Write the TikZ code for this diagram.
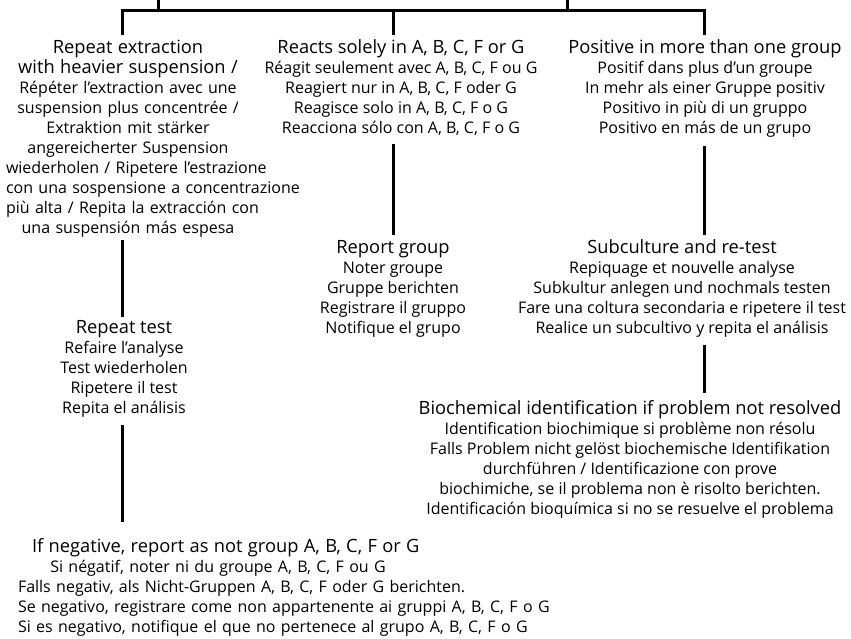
\documentclass[tikz,border=0pt]{standalone}
\usepackage{fontspec}
\setmainfont{Open Sans}
\newcommand\bigline[1]{{\fontsize{18.3}{20}\selectfont #1}}
\tikzset{
  blk/.style={inner sep=0pt, outer sep=0pt, align=center, font=\fontsize{16}{20}\selectfont},
  conn/.style={line width=3pt, line join=miter},
}
\begin{document}
\begin{tikzpicture}[x=1pt,y=-1pt]
\useasboundingbox (0,0) rectangle (851,638);
\coordinate (xL) at (122,0);
\coordinate (xM) at (393,0);
\coordinate (xR) at (704,0);
\coordinate (up1) at (158,0);
\coordinate (up2) at (567,0);
\coordinate (bar) at (393,10);

\node[blk, text width=244pt, anchor=north] (extr) at (128,40) {%
\mbox{\bigline{Repeat extraction}}\\
\mbox{\bigline{with heavier suspension /}}\\
\mbox{Répéter l’extraction avec une}\\
\mbox{suspension plus concentrée /}\\
\mbox{Extraktion mit stärker}\\
\mbox{angereicherter Suspension}\\
\mbox{wiederholen / Ripetere l’estrazione}\\
\mbox{con una sospensione a concentrazione}\\
\mbox{più alta / Repita la extracción con}\\
\mbox{una suspensión más espesa}};

\node[blk, anchor=north] (react) at (401,40) {%
\bigline{Reacts solely in A, B, C, F or G}\\
Réagit seulement avec A, B, C, F ou G\\
Reagiert nur in A, B, C, F oder G\\
Reagisce solo in A, B, C, F o G\\
Reacciona sólo con A, B, C, F o G};

\node[blk, anchor=north] (pos) at (705,40) {%
\bigline{Positive in more than one group}\\
Positif dans plus d’un groupe\\
In mehr als einer Gruppe positiv\\
Positivo in più di un gruppo\\
Positivo en más de un grupo};

\node[blk, anchor=north] (rep) at (393,240.5) {%
\bigline{Report group}\\
Noter groupe\\
Gruppe berichten\\
Registrare il gruppo\\
Notifique el grupo};

\node[blk, anchor=north] (sub) at (682,240) {%
\bigline{Subculture and re-test}\\
Repiquage et nouvelle analyse\\
Subkultur anlegen und nochmals testen\\
Fare una coltura secondaria e ripetere il test\\
Realice un subcultivo y repita el análisis};

\node[blk, anchor=north] (rtest) at (124,320.5) {%
\bigline{Repeat test}\\
Refaire l’analyse\\
Test wiederholen\\
Ripetere il test\\
Repita el análisis};

\node[blk, anchor=north] (bio) at (630,400) {%
\bigline{Biochemical identification if problem not resolved}\\
Identification biochimique si problème non résolu\\
Falls Problem nicht gelöst biochemische Identifikation\\
durchführen / Identificazione con prove\\
biochimiche, se il problema non è risolto berichten.\\
Identificación bioquímica si no se resuelve el problema};

\node[blk, text width=400pt, anchor=north] (neg) at (218,538) {%
\mbox{\hspace*{14pt}\bigline{If negative, report as not group A, B, C, F or G}}\\
\mbox{Si négatif, noter ni du groupe A, B, C, F ou G}\\
\mbox{Falls negativ, als Nicht-Gruppen A, B, C, F oder G berichten.}\\
\mbox{Se negativo, registrare come non appartenente ai gruppi A, B, C, F o G}\\
\mbox{Si es negativo, notifique el que no pertenece al grupo A, B, C, F o G}};

\coordinate (barL) at (xL |- bar);
\coordinate (barR) at (xR |- bar);
\draw[conn] (up1) -- (up1 |- bar);
\draw[conn] (up2) -- (up2 |- bar);
\draw[conn, shorten <=5pt, shorten >=5pt] (extr.north -| xL) -- (barL) -- (barR) -- (pos.north -| xR);
\draw[conn, shorten >=5pt] (bar) -- (react.north -| xM);

\draw[conn, shorten <=2.7pt, shorten >=4pt] (extr.south -| xL) -- (rtest.north -| xL);
\draw[conn, shorten <=7.7pt, shorten >=16pt] (rtest.south -| xL) -- (neg.north -| xL);
\draw[conn, shorten <=8pt, shorten >=6pt] (react.south -| xM) -- (rep.north -| xM);
\draw[conn, shorten <=8.7pt, shorten >=5.4pt] (pos.south -| xR) -- (sub.north -| xR);
\draw[conn, shorten <=7.7pt, shorten >=7.4pt] (sub.south -| xR) -- (bio.north -| xR);
\end{tikzpicture}
\end{document}
